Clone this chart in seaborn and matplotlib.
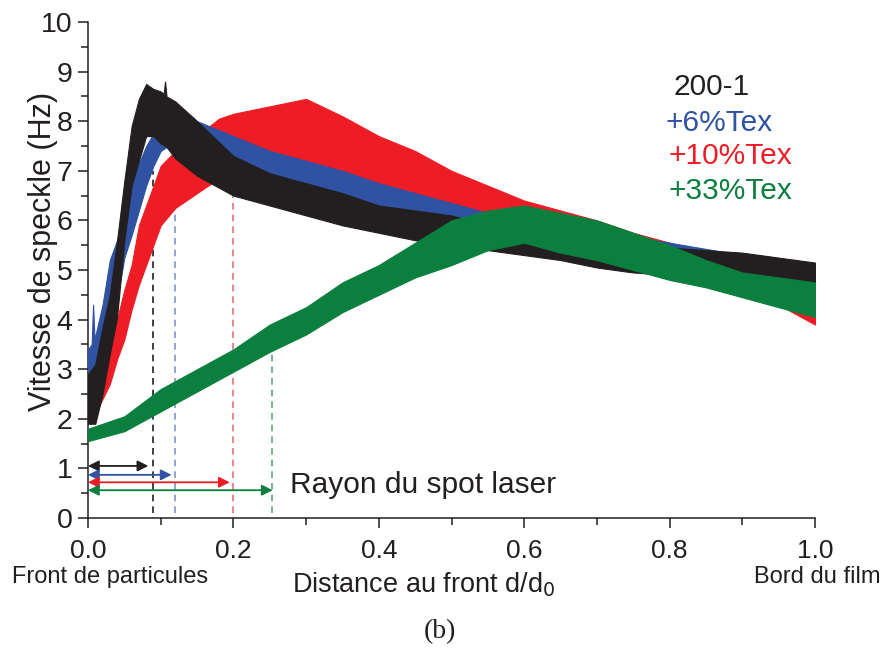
import numpy as np
import pandas as pd
import matplotlib
matplotlib.use("Agg")
import matplotlib.pyplot as plt
from matplotlib.ticker import MultipleLocator
import seaborn as sns

# ---------------- data (envelopes of the noisy traces) ----------------
x_black = [0, 0.01, 0.02, 0.03, 0.04, 0.05, 0.06, 0.07, 0.08, 0.09, 0.10, 0.104, 0.106, 0.108, 0.12, 0.15, 0.2,
           0.25, 0.3, 0.35, 0.4, 0.45, 0.5, 0.55, 0.6, 0.65, 0.7, 0.75, 0.8, 0.85, 0.9, 0.95, 1.0]
lo_black = [1.9, 1.9, 2.5, 3.3, 4.05, 5.6, 6.7, 7.2, 7.7, 7.7, 7.55, 7.52, 7.5, 7.48, 7.25, 6.9, 6.5,
            6.3, 6.1, 5.9, 5.75, 5.6, 5.5, 5.4, 5.3, 5.2, 5.05, 4.95, 4.9, 4.8, 4.75, 4.65, 4.55]
hi_black = [2.9, 3.1, 3.85, 4.5, 5.6, 6.8, 7.9, 8.45, 8.75, 8.65, 8.6, 8.55, 8.8, 8.5, 8.4, 8.0, 7.3,
            6.95, 6.75, 6.55, 6.3, 6.2, 6.1, 5.9, 5.75, 5.6, 5.45, 5.45, 5.45, 5.4, 5.35, 5.25, 5.15]

x_blue = [0, 0.005, 0.007, 0.009, 0.02, 0.03, 0.04, 0.05, 0.06, 0.07, 0.08, 0.09, 0.10, 0.11, 0.12, 0.13, 0.15,
          0.2, 0.25, 0.3, 0.35, 0.4, 0.45, 0.5, 0.55, 0.6, 0.7, 0.8, 0.9, 1.0]
lo_blue = [2.4, 2.55, 2.6, 2.65, 3.1, 3.6, 4.4, 5.25, 5.7, 6.2, 6.7, 7.1, 7.4, 7.5, 7.5, 7.45, 7.35,
           7.0, 6.75, 6.55, 6.35, 6.2, 6.05, 5.9, 5.7, 5.5, 5.2, 5.0, 4.8, 4.3]
hi_blue = [3.4, 3.5, 4.3, 3.6, 4.3, 5.2, 5.6, 6.05, 6.8, 7.15, 7.5, 7.75, 8.0, 8.25, 8.35, 8.25, 8.0,
           7.7, 7.4, 7.2, 7.0, 6.75, 6.55, 6.35, 6.15, 6.0, 5.8, 5.55, 5.3, 5.0]

x_red = [0, 0.01, 0.02, 0.03, 0.04, 0.05, 0.06, 0.07, 0.08, 0.09, 0.10, 0.12, 0.15, 0.18, 0.2,
         0.25, 0.3, 0.35, 0.4, 0.45, 0.5, 0.55, 0.6, 0.65, 0.7, 0.75, 0.8, 0.85, 0.9, 0.95, 1.0]
lo_red = [1.9, 2.1, 2.4, 2.7, 3.2, 3.6, 4.2, 4.7, 5.1, 5.5, 5.9, 6.25, 6.55, 6.85, 7.05,
          7.2, 7.15, 7.0, 6.7, 6.5, 6.3, 6.1, 5.9, 5.75, 5.5, 5.3, 5.0, 4.8, 4.55, 4.3, 3.9]
hi_red = [2.7, 3.0, 3.2, 3.5, 4.0, 4.6, 5.1, 5.9, 6.3, 6.7, 7.1, 7.4, 7.7, 8.05, 8.15,
          8.3, 8.45, 8.1, 7.7, 7.4, 7.0, 6.7, 6.4, 6.2, 6.0, 5.75, 5.55, 5.3, 5.1, 4.9, 4.6]

x_green = [0, 0.05, 0.1, 0.15, 0.2, 0.25, 0.3, 0.35, 0.4, 0.45, 0.5, 0.55, 0.6, 0.65, 0.7,
           0.75, 0.8, 0.85, 0.9, 0.95, 1.0]
lo_green = [1.55, 1.75, 2.15, 2.55, 2.95, 3.35, 3.7, 4.15, 4.5, 4.85, 5.1, 5.4, 5.55, 5.35, 5.2,
            5.0, 4.8, 4.65, 4.45, 4.25, 4.05]
hi_green = [1.8, 2.05, 2.6, 3.0, 3.4, 3.9, 4.25, 4.75, 5.1, 5.55, 6.0, 6.2, 6.3, 6.15, 6.0,
            5.75, 5.5, 5.2, 4.95, 4.85, 4.75]

series_names = ["200-1", "+6%Tex", "+10%Tex", "+33%Tex"]
spot_radius = [0.09, 0.12, 0.20, 0.253]          # dashed line positions
spot_top = [7.0, 7.6, 7.2, 3.6]                  # dashed line tops
arrow_end = [0.083, 0.115, 0.195, 0.254]
arrow_y = [1.05, 0.87, 0.72, 0.56]

colors = {"200-1": "#231f20", "+6%Tex": "#2f52a3", "+10%Tex": "#ee1d25", "+33%Tex": "#0b7f3e"}
dash_colors = {"200-1": "#231f20", "+6%Tex": "#7f95cc", "+10%Tex": "#ec6f78", "+33%Tex": "#5ea97a"}

data = {
    "200-1": (x_black, lo_black, hi_black),
    "+6%Tex": (x_blue, lo_blue, hi_blue),
    "+10%Tex": (x_red, lo_red, hi_red),
    "+33%Tex": (x_green, lo_green, hi_green),
}

# ---------------- figure ----------------
sns.set_theme(style="ticks")
plt.rcParams["font.family"] = ["Liberation Sans", "DejaVu Sans"]
narrow = ["Liberation Sans", "DejaVu Sans"]
ink = "#231f20"

fig = plt.figure(figsize=(8.83, 6.51), dpi=100)
ax = fig.add_axes([88 / 883, 1 - 518 / 651, (815 - 88) / 883, (518 - 22) / 651])

draw_order = [("+10%Tex", 3), ("+6%Tex", 4), ("200-1", 5), ("+33%Tex", 6)]
for name, z in draw_order:
    xs, lo, hi = data[name]
    df = pd.DataFrame({"x": list(xs) + list(xs), "v": list(lo) + list(hi)})
    sns.lineplot(data=df, x="x", y="v", ax=ax, color=colors[name],
                 errorbar=lambda v: (v.min(), v.max()),
                 err_kws={"alpha": 1, "linewidth": 0.8, "edgecolor": colors[name], "zorder": z},
                 linewidth=0, zorder=z)

for name, xr, yt, xe, ya in zip(series_names, spot_radius, spot_top, arrow_end, arrow_y):
    ax.plot([xr, xr], [0.1, yt], ls=(0, (4, 3)), lw=1.2, color=dash_colors[name], zorder=2)
    ax.annotate("", xy=(xe, ya), xytext=(0.0, ya),
                arrowprops=dict(arrowstyle="<|-|>", color=colors[name], lw=1.3,
                                mutation_scale=16, shrinkA=0, shrinkB=0), zorder=7)

ax.text(0.278, 0.67, "Rayon du spot laser", fontsize=21.5, va="center", ha="left", color=ink)

legend_pos = [(0.806, 8.69), (0.794, 7.97), (0.798, 7.29), (0.799, 6.6)]
for name, (lx, ly) in zip(series_names, legend_pos):
    ax.text(lx, ly, name, fontsize=21.5, color=colors[name], va="center", ha="left")

ax.set_xlim(0, 1.0)
ax.set_ylim(0, 10)
ax.xaxis.set_minor_locator(MultipleLocator(0.1))
ax.yaxis.set_minor_locator(MultipleLocator(0.5))
ax.set_xticks([0, 0.2, 0.4, 0.6, 0.8, 1.0])
ax.set_xticklabels(["0.0", "0.2", "0.4", "0.6", "0.8", "1.0"], family=narrow, fontsize=19)
ax.set_yticks(range(0, 11))
ax.set_yticklabels([str(i) for i in range(0, 11)], fontsize=20.5)
ax.tick_params(which="major", direction="out", length=7, width=1.1, color=ink,
               labelcolor=ink, pad=4)
ax.tick_params(axis="x", which="major", pad=8)
ax.tick_params(which="minor", direction="out", length=5, width=1.1, color=ink)
ax.set_xlabel("")
ax.set_ylabel("Vitesse de speckle (Hz)", fontsize=22, color=ink)
ax.yaxis.set_label_coords(-0.041, 0.538)
sns.despine(ax=ax)
for s in ("left", "bottom"):
    ax.spines[s].set_linewidth(1.1)
    ax.spines[s].set_color(ink)

fig.text(12 / 883, 1 - 577 / 651, "Front de particules", family=narrow, fontsize=17,
         ha="left", va="center", color=ink)
fig.text(880 / 883, 1 - 577 / 651, "Bord du film", family=narrow, fontsize=17,
         ha="right", va="center", color=ink)
fig.text(292 / 883, 1 - 585 / 651, "Distance au front d/d$_0$", family=narrow, fontsize=19.5,
         ha="left", va="center", color=ink)
fig.text(440 / 883, 1 - 632 / 651, "(b)", family=["Liberation Serif", "DejaVu Serif"], fontsize=20,
         ha="center", va="center", color=ink)

fig.savefig("out.png", dpi=100, facecolor="white")
